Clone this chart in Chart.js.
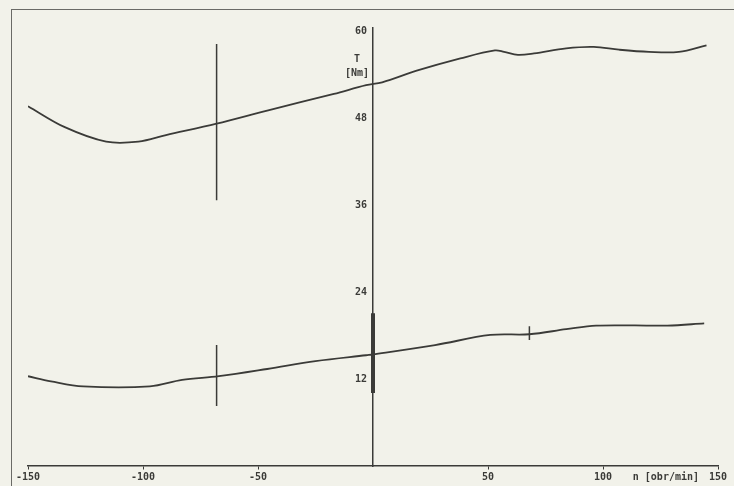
<!DOCTYPE html>
<html>
<head>
<meta charset="utf-8">
<script src="https://cdn.jsdelivr.net/npm/chart.js@4.4.1/dist/chart.umd.min.js"></script>
<style>
  html, body { margin: 0; padding: 0; background: #f2f2ea; }
  #wrap { position: relative; width: 734px; height: 486px; }
  #frame { position: absolute; left: 11px; top: 9px; right: 0; bottom: 0;
           border-left: 1.5px solid #6a6a66; border-top: 1.5px solid #6a6a66; }
  canvas { position: absolute; left: 0; top: 0; }
</style>
</head>
<body>
<div id="wrap">
  <div id="frame"></div>
  <canvas id="chart" width="734" height="486"></canvas>
</div>
<script>
// speed n [obr/min] and torque T [Nm]
const upperN = [-150, -134, -116, -102, -90, -68, -46, -17, -3, 4, 19, 38, 53, 57, 63, 70, 84, 96, 107, 120, 133, 145];
const upperT = [49.7, 46.8, 44.8, 44.8, 45.7, 47.3, 49.1, 51.4, 52.6, 53.0, 54.6, 56.3, 57.4, 57.2, 56.8, 57.0, 57.7, 57.9, 57.5, 57.2, 57.2, 58.1];

const lowerN = [-150, -140, -126, -97, -83, -67, -46, -25, -3, 0, 27, 51, 68, 84, 97, 128, 144];
const lowerT = [12.4, 11.7, 11.0, 11.0, 11.9, 12.4, 13.4, 14.5, 15.3, 15.4, 16.7, 18.1, 18.2, 18.9, 19.4, 19.4, 19.7];

// marker strokes
const markUpper = [[-68, 58.3], [-68, 36.7]];
const markLower = [[-68, 16.7], [-68, 8.3]];
const markSmall = [[68, 19.3], [68, 17.4]];
const markAxis = [[0, 21.1], [0, 10.1]];

const xTicks = [-150, -100, -50, 50, 100, 150];
const xTickLabels = ['-150', '-100', '-50', '50', '100', '150'];
const yTicks = [12, 24, 36, 48, 60];
const yTickLabels = ['12', '24', '36', '48', '60'];

const ink = '#3b3b38';
const font = { family: 'DejaVu Sans Mono', size: 10, weight: 'bold' };

function pts(xs, ys) {
    return xs.map((x, i) => ({ x: x, y: ys[i] }));
}
function pairs(arr) {
    return arr.map(p => ({ x: p[0], y: p[1] }));
}

// axis titles drawn next to the axes
const axisTitles = {
    id: 'axisTitles',
    afterDraw(chart) {
        const ctx = chart.ctx;
        const xs = chart.scales.x, ys = chart.scales.y;
        const x0 = xs.getPixelForValue(0);
        const y0 = ys.getPixelForValue(0);
        ctx.save();
        ctx.fillStyle = ink;
        ctx.font = 'bold 10px "DejaVu Sans Mono"';
        ctx.textAlign = 'center';
        ctx.textBaseline = 'middle';
        ctx.fillText('T', x0 - 16, ys.getPixelForValue(56.2));
        ctx.fillText('[Nm]', x0 - 16, ys.getPixelForValue(54.2));
        ctx.textAlign = 'right';
        ctx.fillText('n [obr/min]', xs.getPixelForValue(150) - 19, y0 + 11);
        ctx.restore();
    }
};

const lineStyle = { borderColor: ink, borderWidth: 1.8, pointRadius: 0, showLine: true, fill: false };

new Chart(document.getElementById('chart'), {
    type: 'scatter',
    data: {
        datasets: [
            Object.assign({ data: pts(upperN, upperT), tension: 0.35 }, lineStyle),
            Object.assign({ data: pts(lowerN, lowerT), tension: 0.35 }, lineStyle),
            Object.assign({ data: pairs(markUpper) }, lineStyle, { borderWidth: 1.5 }),
            Object.assign({ data: pairs(markLower) }, lineStyle, { borderWidth: 1.5 }),
            Object.assign({ data: pairs(markSmall) }, lineStyle, { borderWidth: 1.5 }),
            Object.assign({ data: pairs(markAxis) }, lineStyle, { borderWidth: 4 })
        ]
    },
    options: {
        responsive: false,
        animation: false,
        layout: { padding: { left: 28, right: 16, top: 28, bottom: 20 } },
        plugins: { legend: { display: false }, tooltip: { enabled: false } },
        scales: {
            x: {
                type: 'linear',
                min: -150, max: 150,
                position: { y: 0 },
                afterBuildTicks: s => { s.ticks = xTicks.map(v => ({ value: v })); },
                ticks: {
                    color: ink, font: font, padding: 2, maxRotation: 0,
                    callback: v => xTickLabels[xTicks.indexOf(v)]
                },
                grid: { drawOnChartArea: false, tickLength: 3, color: ink },
                border: { color: ink, width: 1.5 }
            },
            y: {
                type: 'linear',
                min: 0, max: 60.5,
                position: { x: 0 },
                afterBuildTicks: s => { s.ticks = yTicks.map(v => ({ value: v })); },
                ticks: {
                    color: ink, font: font,
                    callback: v => yTickLabels[yTicks.indexOf(v)] + ' '
                },
                grid: { drawOnChartArea: false, drawTicks: false },
                border: { color: ink, width: 1.5 }
            }
        }
    },
    plugins: [axisTitles]
});
</script>
</body>
</html>
